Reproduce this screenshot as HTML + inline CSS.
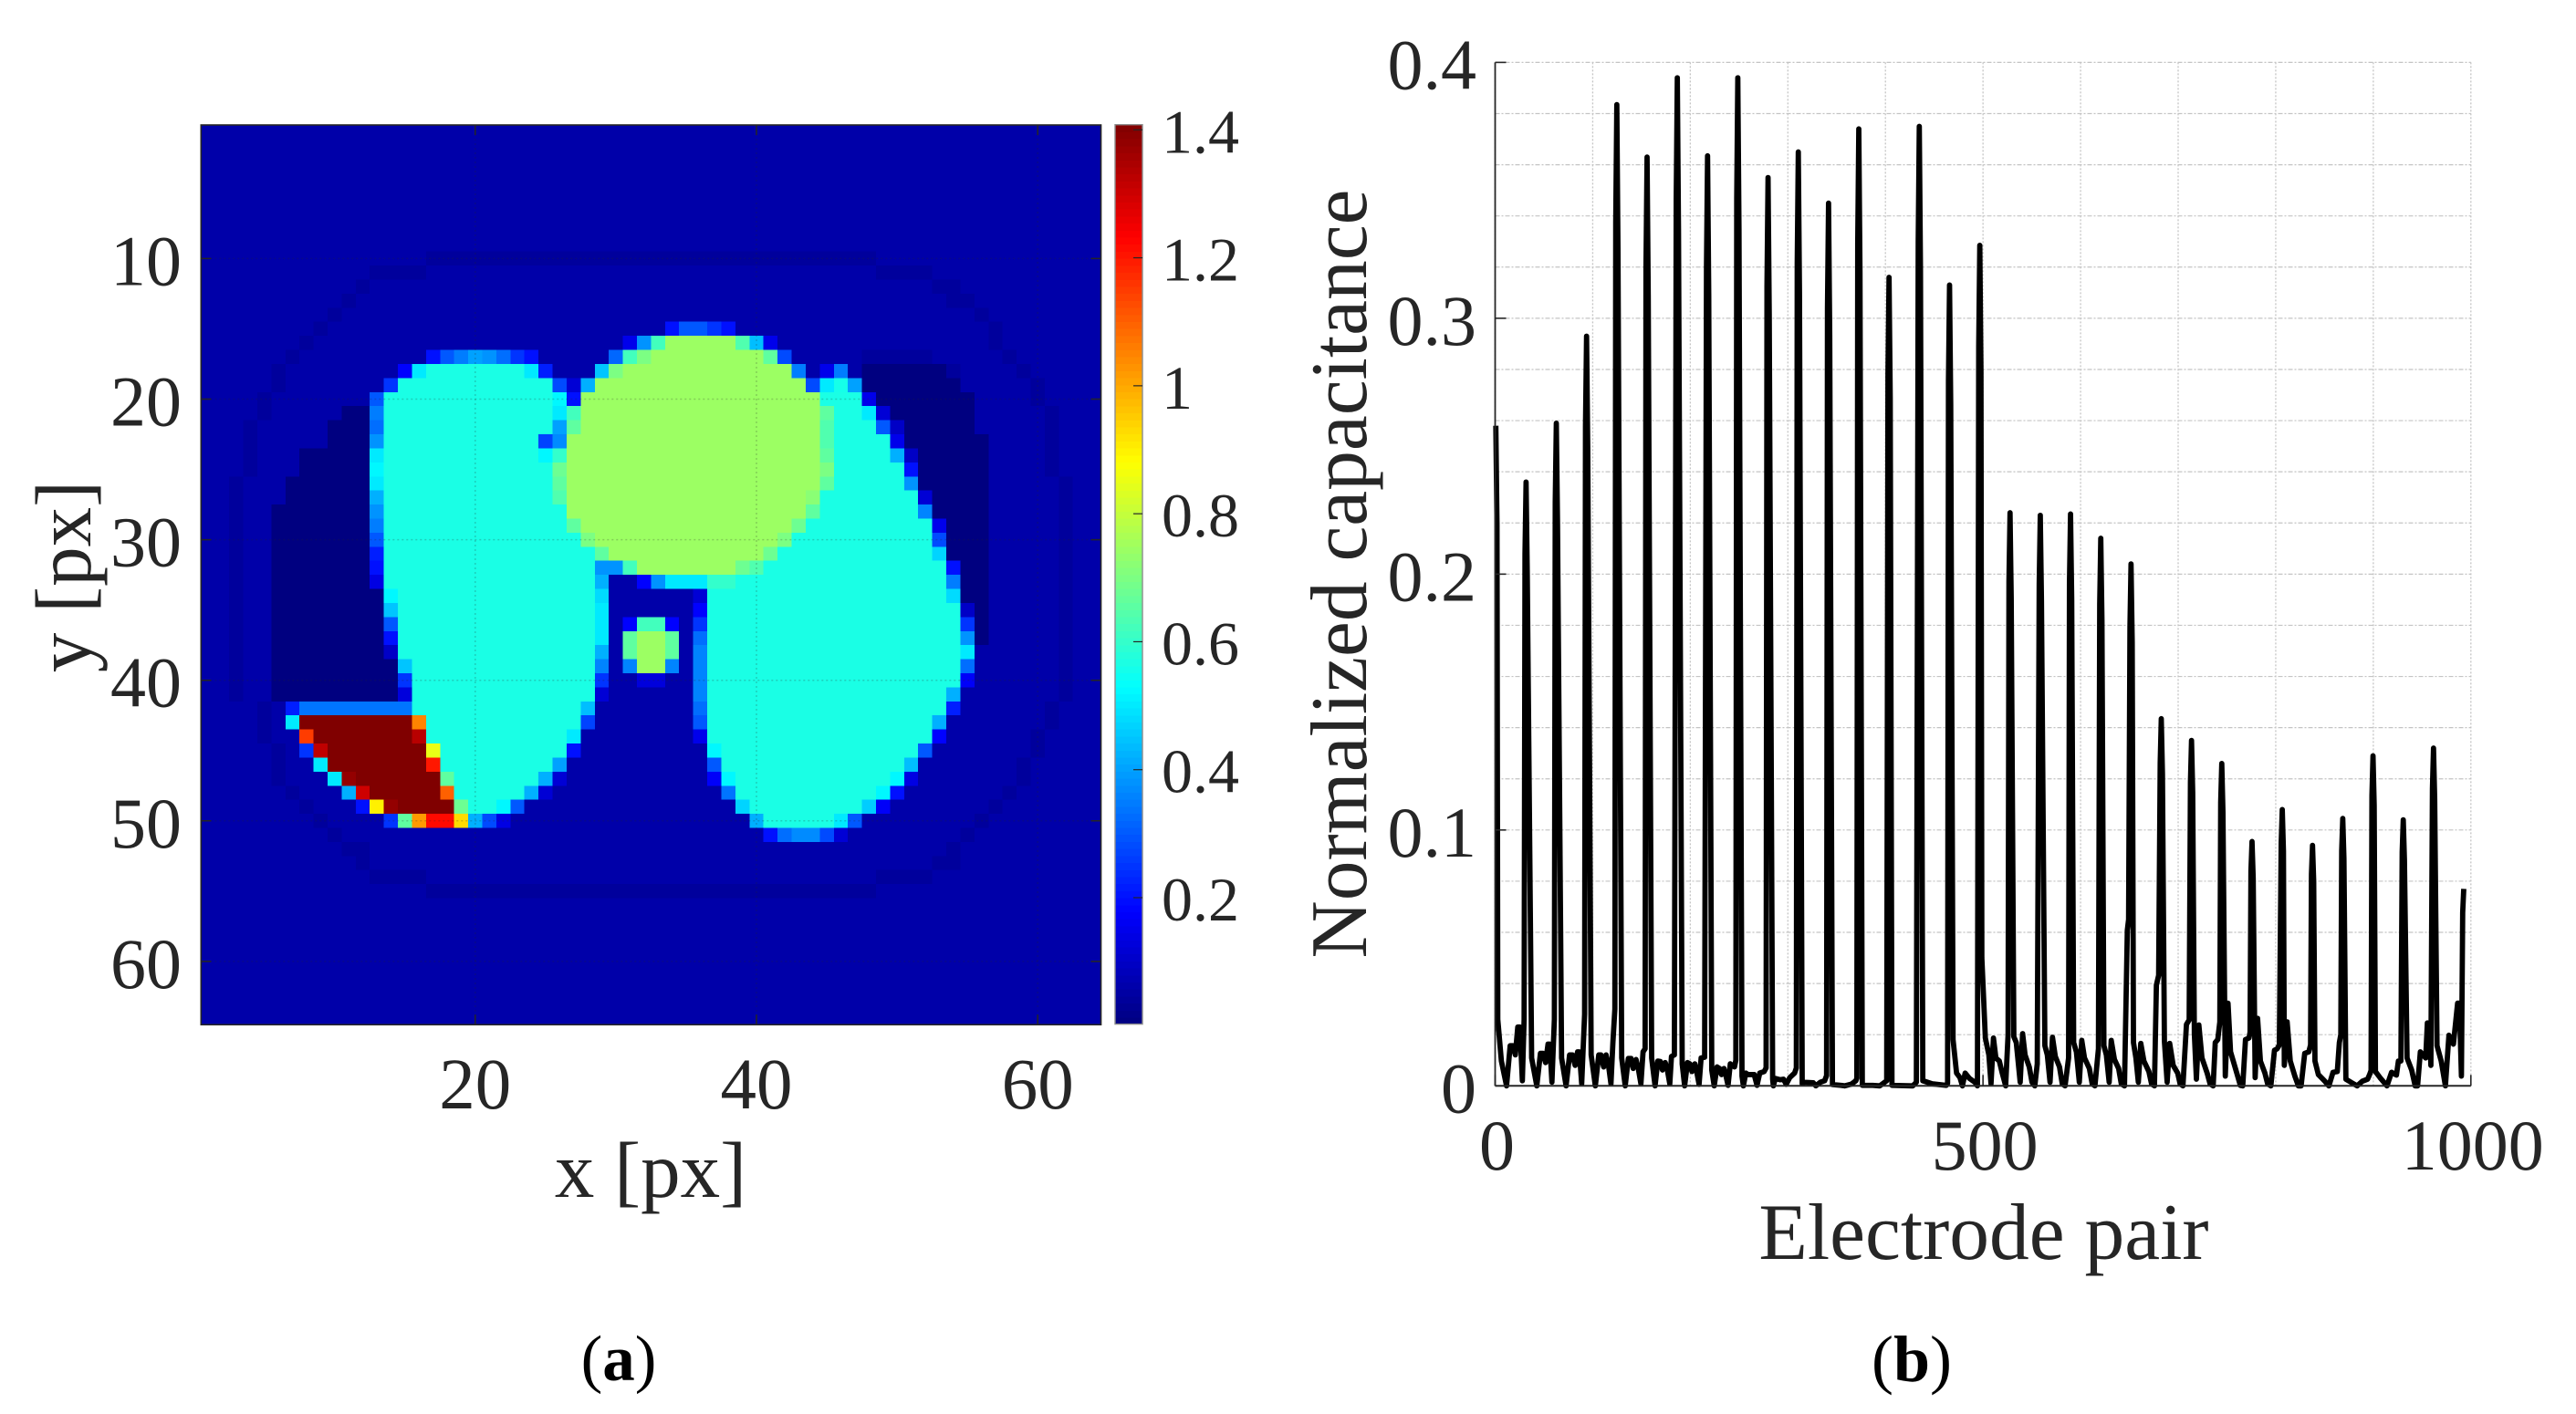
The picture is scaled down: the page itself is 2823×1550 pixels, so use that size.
<!DOCTYPE html>
<html lang="en">
<head>
<meta charset="utf-8">
<title>Capacitance figure</title>
<style>
html,body{margin:0;padding:0;background:#fff;}
svg{display:block;}
text{font-family:"Liberation Serif","Times New Roman",serif;fill:#262626;}
</style>
</head>
<body>
<svg id="figure" xmlns="http://www.w3.org/2000/svg" width="2823" height="1550" viewBox="0 0 2823 1550">
  <rect x="0" y="0" width="2823" height="1550" fill="#ffffff"/>
  <g id="panelA"></g>
  <g id="panelB"></g>
  <text transform="translate(99,632) rotate(-90)" text-anchor="middle" font-size="87">y [px]</text>
  <text x="713" y="1312" text-anchor="middle" font-size="87">x [px]</text>
  <text x="678" y="1513" text-anchor="middle" font-size="71" style="fill:#000">(<tspan font-weight="bold">a</tspan>)</text>
  <text transform="translate(1497,629) rotate(-90)" text-anchor="middle" font-size="87.5">Normalized capacitance</text>
  <text x="2174" y="1380" text-anchor="middle" font-size="87.5">Electrode pair</text>
  <text x="2095" y="1514" text-anchor="middle" font-size="72" style="fill:#000">(<tspan font-weight="bold">b</tspan>)</text>
</svg>
<script>
// ---------- Panel (a) data ----------
const b = 0.059, o = 0.0416, d = 0.003, l = 0.565, h = 0.744, r = 1.44;
const heatXTicks = [20, 40, 60];
const heatYTicks = [10, 20, 30, 40, 50, 60];
const colorbarTicks = [0.2, 0.4, 0.6, 0.8, 1, 1.2, 1.4];
const colorMin = 0.0024;
const colorMax = 1.408;
// each row: value, run length, value, run length ...
const heatRuns = [
[b,64],[b,64],[b,64],[b,64],[b,64],[b,64],[b,64],[b,64],[b,64],
[b,16,o,32,b,16],
[b,12,o,4,b,32,o,4,b,12],
[b,11,o,1,b,40,o,2,b,10],
[b,10,o,1,b,42,o,2,b,9],
[b,9,o,1,b,45,o,1,b,8],
[b,8,o,1,b,24,.2,1,.3,1,.3,1,.25,1,.2,1,b,18,o,1,b,7],
[b,7,o,1,b,22,.15,1,.38,1,.62,1,h,5,.64,1,.44,1,.15,1,b,15,o,1,b,7],
[b,6,o,1,b,9,.2,1,.3,1,.35,1,.4,1,.38,1,.33,1,.25,1,.2,1,b,5,.32,1,.62,1,.7,1,h,8,.66,1,.28,1,b,5,o,5,b,5,o,1,b,6],
[b,5,o,1,b,8,.18,1,.5,1,l,7,.5,1,.22,1,b,3,.45,1,.7,1,h,12,.35,1,b,1,.15,1,.35,1,b,1,d,6,o,1,b,4,o,1,b,5],
[b,5,o,1,b,7,.25,1,l,11,.28,1,.12,1,.42,1,h,15,.28,1,.5,1,.56,1,.4,1,d,7,b,5,o,1,b,4],
[b,4,o,1,b,7,.3,1,l,12,.52,1,.2,1,h,17,l,3,.15,1,d,7,b,4,o,1,b,4],
[b,4,o,1,b,5,d,2,.35,1,l,12,.5,1,.62,1,h,17,.66,1,l,2,.5,1,.12,1,d,6,b,5,o,1,b,3],
[b,3,o,1,b,5,d,3,.33,1,l,12,.4,1,.66,1,h,17,.64,1,l,3,.3,1,.1,1,d,5,b,5,o,1,b,3],
[b,3,o,1,b,5,d,3,.38,1,l,11,.27,1,.37,1,h,18,.64,1,l,4,.15,1,d,6,b,4,o,1,b,3],
[b,3,o,1,b,3,d,5,.5,1,l,11,.52,1,.6,1,h,18,.66,1,l,4,.42,1,.1,1,d,5,b,4,o,1,b,3],
[b,3,o,1,b,3,d,5,.52,1,l,12,.68,1,h,18,.7,1,l,5,.2,1,d,5,b,4,o,1,b,3],
[b,2,o,1,b,3,d,6,.5,1,l,12,.66,1,h,18,.66,1,l,5,.38,1,d,5,b,5,o,1,b,2],
[b,2,o,1,b,3,d,6,.42,1,l,12,.64,1,h,17,.72,1,l,7,.12,1,d,4,b,5,o,1,b,2],
[b,2,o,1,b,2,d,7,.38,1,l,13,h,17,.66,1,l,7,.36,1,d,4,b,5,o,1,b,2],
[b,2,o,1,b,2,d,7,.35,1,l,13,.66,1,h,15,.68,1,l,9,.15,1,d,3,b,5,o,1,b,2],
[b,2,o,1,b,2,d,7,.3,1,l,14,.7,1,h,13,.7,1,l,10,.28,1,d,3,b,5,o,1,b,2],
[b,2,o,1,b,2,d,7,.22,1,l,15,.66,1,h,11,.68,1,l,11,.47,1,d,3,b,5,o,1,b,2],
[b,2,o,1,b,2,d,7,.2,1,l,15,.38,2,.62,1,h,7,.68,1,.64,1,l,13,.2,1,d,2,b,5,o,1,b,2],
[b,2,o,1,b,2,d,7,.14,1,l,15,.42,1,b,2,.18,1,.38,1,.5,3,.6,2,l,15,.35,1,d,2,b,5,o,1,b,2],
[b,2,o,1,b,2,d,8,.52,1,l,14,.48,1,b,6,.12,1,l,17,.48,1,d,2,b,5,o,1,b,2],
[b,2,o,1,b,2,d,8,.45,1,l,14,.5,1,b,6,.18,1,l,18,.1,1,d,1,b,5,o,1,b,2],
[b,2,o,1,b,2,d,8,.3,1,l,14,.5,1,b,1,.18,1,.62,2,.18,1,b,1,.25,1,l,18,.25,1,d,1,b,5,o,1,b,2],
[b,2,o,1,b,2,d,8,.2,1,l,14,.5,1,b,1,.66,1,h,2,.66,1,b,1,.33,1,l,18,.38,1,d,1,b,5,o,1,b,2],
[b,2,o,1,b,2,d,8,.1,1,l,14,.42,1,b,1,.66,1,h,2,.66,1,b,1,.36,1,l,18,.5,1,b,6,o,1,b,2],
[b,2,o,1,b,2,d,9,.45,1,l,13,.36,1,b,1,.36,1,h,2,.36,1,b,1,.36,1,l,18,.33,1,b,6,o,1,b,2],
[b,2,o,1,b,2,d,9,.25,1,l,13,.25,1,b,2,.13,2,b,2,.36,1,l,18,.17,1,b,6,o,1,b,2],
[b,2,o,1,b,2,d,9,.13,1,l,13,.12,1,b,6,.36,1,l,17,.42,1,b,7,o,1,b,2],
[b,4,o,1,b,1,.22,1,.34,8,l,12,.44,1,b,7,.33,1,l,17,.22,1,b,6,o,1,b,3],
[b,4,o,1,b,1,.5,1,r,8,1.05,1,l,11,.27,1,b,7,.3,1,l,16,.42,1,b,7,o,1,b,3],
[b,4,o,1,b,2,1.15,1,r,7,1.33,1,l,10,.5,1,b,8,.15,1,l,16,.18,1,b,6,o,1,b,4],
[b,5,o,1,b,1,.25,1,1.32,1,r,7,.85,1,l,9,.2,1,b,9,.52,1,l,14,.3,1,b,7,o,1,b,4],
[b,5,o,1,b,2,.5,1,r,7,1.2,1,l,8,.4,1,b,10,.3,1,l,13,.44,1,b,7,o,1,b,5],
[b,5,o,1,b,3,.5,1,1.38,1,r,6,.66,1,l,6,.42,1,.12,1,b,10,.17,1,.52,1,l,11,.52,1,.14,1,b,7,o,1,b,5],
[b,6,o,1,b,3,.42,1,1.3,1,r,5,1.1,1,l,5,.42,1,.12,1,b,12,.34,1,l,10,.52,1,.2,1,b,7,o,1,b,6],
[b,7,o,1,b,3,.2,1,.9,1,1.38,1,r,4,.68,1,l,2,.52,1,.3,1,b,15,.47,1,l,8,.46,1,.17,1,b,7,o,1,b,7],
[b,8,o,1,b,4,.25,1,.66,1,1.02,1,1.22,2,.93,1,.42,1,.28,1,.14,1,b,17,.42,1,l,5,.5,1,.3,1,b,8,o,1,b,8],
[b,9,o,1,b,30,.2,1,.33,1,.37,2,.28,1,.12,1,b,8,o,1,b,9],
[b,10,o,2,b,41,o,1,b,10],
[b,11,o,1,b,40,o,2,b,10],
[b,12,o,4,b,32,o,4,b,12],
[b,16,o,32,b,16],
[b,64],[b,64],[b,64],[b,64],[b,64],[b,64],[b,64],[b,64],[b,64]
];

// ---------- Panel (b) data ----------
const lineXTicks = [0, 500, 1000];
const lineYTicks = [0, 0.1, 0.2, 0.3, 0.4];
const lineYTickLabels = ['0', '0.1', '0.2', '0.3', '0.4'];
const gridXValues = [0, 100, 200, 300, 400, 500, 600, 700, 800, 900, 1000];
const gridYValues = [0.02,0.04,0.06,0.08,0.1,0.12,0.14,0.16,0.18,0.2,0.22,0.24,0.26,0.28,0.3,0.32,0.34,0.36,0.38,0.4];
const firstPair = 0.7;
const pairsPerGroup = 31;
const peakValues = [.258,.236,.259,.293,.3835,.363,.394,.3635,.394,.355,.365,.345,.374,.316,.375,.313,.3285,.224,.223,.2235,.214,.204,.1435,.135,.126,.0955,.108,.094,.1045,.129,.104,.132,.077];
// samples between consecutive peaks: pair offset after the peak, capacitance in units of 1e-4
const gapSamples = [
[2,260,5.7,97,11,0,14.7,157,17.5,157,20,121,22.5,230,24.7,230,27.2,20,29,260],
[5.7,109,11,0,14.7,127,17.2,127,20,91,22.5,163,24.3,163,26.5,14,29,260],
[5.4,109,10,0,13.6,121,16.5,121,19.3,80,21.8,133,23.6,133,26,8,29,280],
[4.7,121,9,0,12.5,121,14.7,121,17.5,74,20,121,22.5,80,25,8,27,169,29,300],
[5,109,8.6,0,11.8,107,14.6,107,16.8,68,19.7,103,22,68,24.7,8,26.9,133,29,145],
[4.7,109,8.2,0,11,97,13.6,95,15.8,62,18.6,91,20.8,62,23.3,8,25,115,28,121],
[5,86,7.5,0,10.4,91,12.9,86,15,56,18,86,20,53,22.3,6,24.4,109,28,112],
[4.3,62,6.8,0,9.7,74,12.2,68,14.3,44,16.8,68,18.6,44,21,2,23.3,86,27.6,74,29,100],
[4.3,38,5.7,0,8.2,50,10.7,44,14.3,44,16.8,44,19.7,2,22.5,50,27,56,29,70],
[4.7,26,5.4,0,7.5,29,12.2,24,15.8,26,18.6,6,22.2,32,27.2,50,29,70],
[4,8,6.4,14,15.4,12,18,0,22.5,14,27,20,29,40],
[4,5,12.9,2,16.5,0,23.6,7,28,20,29,30],
[3.6,2,14.3,2,21.5,0,28.6,20],
[3,2,24.3,0,28,14],
[3.6,20,13.2,8,27.6,2,29,10],
[3.6,181,7.2,50,10.7,32,13.2,0,16,50,20.4,29,26,14,28.6,0],
[2.1,500,5.7,187,9.3,121,11.5,8,14,187,16.5,109,20,97,23,50,26.5,0,29,200],
[3.9,192,6.4,169,10.4,14,12.9,204,15.4,121,19.7,74,22.5,14,25.4,0,27.9,86],
[4.7,157,7.2,121,10,14,12.5,190,15.4,115,19.7,74,22.5,8,25.4,0,29,109],
[3.2,169,6,133,9,14,11.5,178,14.3,109,19.3,68,22.2,8,25,0,28.6,145],
[3.2,157,5.7,121,8.6,14,10.7,178,14,103,18.3,68,21,8,24.3,0,27.2,608,28.5,650],
[2.5,169,5,109,7.5,14,10,166,13.2,97,18.3,56,21,8,24,0,26,394,28.3,432],
[3.2,175,6,14,8.6,166,12.2,80,16.8,50,19.3,8,22.2,0,25.8,240,28.6,258],
[2.9,204,5,26,7.5,238,10.7,109,16,50,19,8,22.2,0,24.3,169,26.9,181,29,250],
[3.6,38,6.4,323,9,133,15.4,50,19,2,21.5,0,24.3,181,27.9,187,29,210],
[3.2,32,5.7,264,8.6,97,13.2,50,16,8,19.3,0,23,139,25.8,145,28,160],
[2.1,80,5,250,8.2,97,12.9,38,16.5,0,19.3,0,23,127,27.2,133,29,160],
[2.5,97,6,44,12.2,20,16.8,0,21,53,25.4,56,27.5,169,29,200],
[3.2,26,9.3,12,14.7,0,20,18,25.4,26,27.5,44,29,60],
[2.5,56,7.2,32,14.3,0,19,53,24,42,26,97,28.6,97],
[3.9,109,8.6,62,12.2,0,14.7,0,17.5,133,23,109,24.7,246,26.9,242,28.3,80],
[3.6,157,7.9,97,12.2,0,15.8,198,20.4,163,24.7,323,26.5,323,28.6,38]
];

// ---------- helpers ----------
const NS = 'http://www.w3.org/2000/svg';
function mk(parent, tag, attrs, txt) {
  const el = document.createElementNS(NS, tag);
  for (const k in attrs) el.setAttribute(k, attrs[k]);
  if (txt !== undefined) el.textContent = txt;
  parent.appendChild(el);
  return el;
}
function clamp01(v) { return Math.max(0, Math.min(1, v)); }
function jet(v) {
  const t = clamp01((v - colorMin) / (colorMax - colorMin));
  const c = [3, 2, 1].map(function (k) {
    return Math.round(255 * clamp01(1.5 - Math.abs(4 * t - k)));
  });
  return 'rgb(' + c.join(',') + ')';
}

// ---------- panel a ----------
const cellSize = 15.41;
const heatLeft = 220.3, heatTop = 137;
const heatRight = heatLeft + 64 * cellSize, heatBottom = heatTop + 64 * cellSize;
function xA(v) { return heatLeft + (v - 0.5) * cellSize; }
function yA(v) { return heatTop + (v - 0.5) * cellSize; }
const panelA = document.getElementById('panelA');
const cellGroup = mk(panelA, 'g', { 'shape-rendering': 'crispEdges' });


heatRuns.forEach(function (row, ri) {
  let col = 1;
  for (let i = 0; i < row.length; i += 2) {
    for (let n = 0; n < row[i + 1]; n++) {
      const cell = mk(cellGroup, 'rect', {
        x: xA(col - 0.5).toFixed(2), y: yA(ri + 0.5).toFixed(2),
        width: cellSize + 0.3, height: cellSize + 0.3, fill: jet(row[i])
      });
      
      
      col++;
    }
  }
});
heatXTicks.forEach(function (t) {
  const x = xA(t);
  const g = mk(panelA, 'line', { x1: x, x2: x, y1: heatTop, y2: heatBottom, stroke: '#262626', 'stroke-opacity': .22, 'stroke-width': 1.5, 'stroke-dasharray': '2 3' });
  
  
  const t1 = mk(panelA, 'path', { d: 'M' + x + ' ' + heatBottom + 'V' + (heatBottom - 11) + 'M' + x + ' ' + heatTop + 'V' + (heatTop + 11), stroke: '#262626', 'stroke-width': 1.5, fill: 'none' });
  
  
  const lb = mk(panelA, 'text', { x: x, y: 1215, 'text-anchor': 'middle', 'font-size': 79 }, String(t));
  
  
});
heatYTicks.forEach(function (t) {
  const y = yA(t);
  const g = mk(panelA, 'line', { x1: heatLeft, x2: heatRight, y1: y, y2: y, stroke: '#262626', 'stroke-opacity': .22, 'stroke-width': 1.5, 'stroke-dasharray': '2 3' });
  
  
  const t1 = mk(panelA, 'path', { d: 'M' + heatLeft + ' ' + y + 'H' + (heatLeft + 11) + 'M' + heatRight + ' ' + y + 'H' + (heatRight - 11), stroke: '#262626', 'stroke-width': 1.5, fill: 'none' });
  
  
  const lb = mk(panelA, 'text', { x: 199, y: y + 29, 'text-anchor': 'end', 'font-size': 78 }, String(t));
  
  
});
const heatBox = mk(panelA, 'rect', { x: heatLeft, y: heatTop, width: heatRight - heatLeft, height: heatBottom - heatTop, fill: 'none', stroke: '#262626', 'stroke-width': 1.6 });



// colorbar
const cbLeft = 1222, cbRight = 1252, cbTop = 136.7, cbBottom = 1122.6;
function yC(v) { return cbBottom - (v - colorMin) / (colorMax - colorMin) * (cbBottom - cbTop); }
const cbGroup = mk(panelA, 'g', { 'shape-rendering': 'crispEdges' });


const cbLevels = 128;
for (let i = 0; i < cbLevels; i++) {
  const v0 = colorMin + (colorMax - colorMin) * i / cbLevels;
  const v1 = colorMin + (colorMax - colorMin) * (i + 1) / cbLevels;
  mk(cbGroup, 'rect', { x: cbLeft, width: cbRight - cbLeft, y: yC(v1).toFixed(2), height: (yC(v0) - yC(v1) + 0.6).toFixed(2), fill: jet((v0 + v1) / 2) });
}
const cbFrame = mk(panelA, 'rect', { x: cbLeft, y: cbTop, width: cbRight - cbLeft, height: cbBottom - cbTop, fill: 'none', stroke: '#8c8c8c', 'stroke-width': 1.4 });


colorbarTicks.forEach(function (t) {
  const y = yC(t);
  const tk = mk(panelA, 'line', { x1: cbRight - 10, x2: cbRight, y1: y, y2: y, stroke: '#262626', 'stroke-width': 1.2 });
  
  
  const lb = mk(panelA, 'text', { x: 1273, y: y + 25, 'font-size': 68 }, String(t));
  
  
});

// ---------- panel b ----------
const plotLeft = 1638.5, plotRight = 2707.8, plotTop = 68.4, plotBottom = 1190.3;
function xB(v) { return plotLeft + v / 1000 * (plotRight - plotLeft); }
function yB(v) { return plotBottom - v / 0.4 * (plotBottom - plotTop); }
const panelB = document.getElementById('panelB');
gridXValues.forEach(function (v) {
  const x = xB(v);
  const g = mk(panelB, 'line', { x1: x, x2: x, y1: plotTop, y2: plotBottom, stroke: '#c4c4c4', 'stroke-width': 1.3, 'stroke-dasharray': '2 2' });
  
  
});
gridYValues.forEach(function (v) {
  const y = yB(v);
  const g = mk(panelB, 'line', { x1: plotLeft, x2: plotRight, y1: y, y2: y, stroke: '#c4c4c4', 'stroke-width': 1.2, 'stroke-dasharray': '5 2 2 2' });
  
  
});
let pathD = '';
peakValues.forEach(function (p, k) {
  const px = firstPair + k * pairsPerGroup;
  // a peak spans neighbouring electrode pairs, giving the flat-topped thick spike
  if (k > 0) pathD += 'L' + xB(px - 1.1).toFixed(2) + ' ' + yB(p * 0.88).toFixed(2);
  pathD += (k === 0 ? 'M' : 'L') + xB(px).toFixed(2) + ' ' + yB(p).toFixed(2);
  if (k < peakValues.length - 1) pathD += 'L' + xB(px + 1.2).toFixed(2) + ' ' + yB(p * 0.85).toFixed(2);
  const gap = gapSamples[k];
  if (gap) {
    for (let i = 0; i < gap.length; i += 2) {
      pathD += 'L' + xB(px + gap[i]).toFixed(2) + ' ' + yB(gap[i + 1] * 1e-4).toFixed(2);
    }
  }
});
const series = mk(panelB, 'path', { d: pathD, fill: 'none', stroke: '#000', 'stroke-width': 5.8, 'stroke-linejoin': 'round', 'stroke-linecap': 'butt' });


const axisY = mk(panelB, 'line', { x1: plotLeft, x2: plotLeft, y1: plotTop, y2: plotBottom, stroke: '#262626', 'stroke-width': 1.8 });


const axisX = mk(panelB, 'line', { x1: plotLeft, x2: plotRight, y1: plotBottom, y2: plotBottom, stroke: '#262626', 'stroke-width': 2 });


lineYTicks.forEach(function (t, i) {
  const y = yB(t);
  const tk = mk(panelB, 'line', { x1: plotLeft, x2: plotLeft + 12, y1: y, y2: y, stroke: '#262626', 'stroke-width': 1.6 });
  
  
  const lb = mk(panelB, 'text', { x: 1618, y: y + 29, 'text-anchor': 'end', 'font-size': 78 }, lineYTickLabels[i]);
  
  
});
lineXTicks.forEach(function (t) {
  const x = xB(t);
  const tk = mk(panelB, 'line', { x1: x, x2: x, y1: plotBottom, y2: plotBottom - 12, stroke: '#262626', 'stroke-width': 1.6 });
  
  
  const lb = mk(panelB, 'text', { x: x + 2, y: 1282, 'text-anchor': 'middle', 'font-size': 78 }, String(t));
  
  
});
</script>
</body>
</html>
